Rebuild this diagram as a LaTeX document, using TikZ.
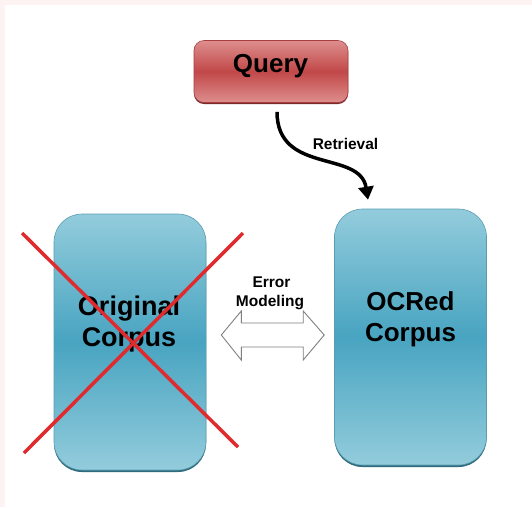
\documentclass[tikz,border=0pt]{standalone}
\usepackage{fontspec}
\setmainfont{Liberation Sans}
\usetikzlibrary{arrows.meta,shadows,calc}

\definecolor{corpuslight}{HTML}{93CCDC}
\definecolor{corpusdark}{HTML}{48A4C1}
\definecolor{corpusedge}{HTML}{5A9DB0}
\definecolor{corpusshadow}{HTML}{2F6B7C}
\definecolor{querylight}{HTML}{DD8E8E}
\definecolor{querydark}{HTML}{C24848}
\definecolor{queryedge}{HTML}{A83E3E}
\definecolor{queryshadow}{HTML}{7A2A2A}
\definecolor{crossred}{HTML}{DF2A2E}
\definecolor{arrowgray}{HTML}{7F7F7F}
\definecolor{edgetint}{HTML}{FCF3F2}

\begin{document}
\begin{tikzpicture}[x=1pt,y=-1pt,
  corpus/.style={rectangle, rounded corners=28pt, minimum width=152pt,
    minimum height=256pt, draw=corpusedge, line width=0.6pt,
    top color=corpuslight, bottom color=corpuslight, middle color=corpusdark,
    general shadow={fill=corpusshadow, shadow yshift=-2pt}},
  querybox/.style={rectangle, rounded corners=10pt, minimum width=154pt,
    minimum height=62pt, draw=queryedge, line width=0.6pt,
    top color=querylight, bottom color=querylight, middle color=querydark,
    general shadow={fill=queryshadow, shadow yshift=-1.5pt}},
  bigtext/.style={inner sep=0pt, anchor=base, font=\bfseries\fontsize{27}{31}\selectfont},
  midtext/.style={inner sep=0pt, anchor=base, font=\bfseries\fontsize{26}{31}\selectfont},
  smalltext/.style={inner sep=0pt, anchor=base, font=\bfseries\fontsize{15.5}{19}\selectfont},
  crossline/.style={draw=crossred, line width=3.5pt},
  flowarrow/.style={draw=black, line width=3.5pt,
    -{Triangle[width=15pt,length=13pt]}},
  hollowarrow/.style={draw=arrowgray, line width=0.9pt, fill=white, line join=miter}
]
\useasboundingbox (0,0) rectangle (532,507);
\fill[white] (0,0) rectangle (532,507);
\fill[edgetint] (0,0) rectangle (5,507);
\fill[edgetint] (0,0) rectangle (532,5);

% boxes
\node[querybox] (query) at (271,71.5) {};
\node[corpus] (orig) at (130,342) {};
\node[corpus] (ocr) at (410.5,337) {};

% box labels
\node[midtext] (qlabel) at (270.5,72) {Query};
\node[bigtext] (orig1) at (129,315.5) {Original};
\node[bigtext] (orig2) at (129,346.5) {Corpus};
\node[midtext] (ocr1) at (410.5,310.5) {OCRed};
\node[midtext] (ocr2) at (410.5,341.5) {Corpus};

% retrieval connector
\coordinate (rstart) at ($(query.south)+(6,9)$);
\coordinate (rend) at ($(ocr.north)+(-42.5,-9)$);
\draw[flowarrow] (rstart) .. controls ($(rstart)+(0,63)$) and ($(rend)+(-8,-50)$) .. (rend);
\node[smalltext] (retr) at (345.5,149) {Retrieval};

% error modeling double arrow
\coordinate (la) at ($(orig.east)+(15,-7)$);
\coordinate (ra) at ($(ocr.west)+(-10,-2)$);
\draw[hollowarrow] (la) -- ++(20,-24) -- ++(0,12) -- ($(ra)+(-21,-12)$)
  -- ++(0,-12) -- (ra) -- ++(-21,25) -- ++(0,-13) -- ($(la)+(20,12)$)
  -- ++(0,13) -- cycle;
\node[smalltext] (err1) at (271.5,287) {Error};
\node[smalltext] (err2) at (270,306) {Modeling};

% strike-through over the original corpus
\coordinate (x1) at (22,233);
\coordinate (x2) at (238,447);
\coordinate (x3) at (243,233);
\coordinate (x4) at (24,453);
\draw[crossline] (x1) -- (x2);
\draw[crossline] (x3) -- (x4);
\end{tikzpicture}
\end{document}
